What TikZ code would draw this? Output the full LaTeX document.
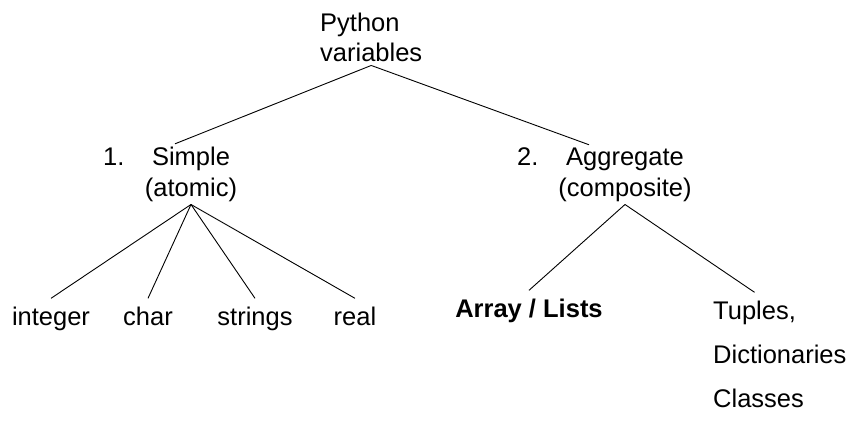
\documentclass[tikz,border=0pt]{standalone}
\usepackage{fontspec}
\setmainfont{Liberation Sans}
\usepackage{tikz}

\begin{document}
\begin{tikzpicture}[
      x=1pt, y=-1pt,
      word/.style={
        font=\fontsize{25.5}{30.5}\selectfont,
        inner xsep=0pt, inner ysep=3pt
      },
      leaf/.style={
        word, inner ysep=8pt
      },
      branch/.style={
        draw=black, line width=0.9pt
      }
    ]
      \useasboundingbox (0,0) rectangle (856,420);
      % top of the tree (base = last line)
      \node[word, align=left, anchor=base west] (root) at (320,62) {Python\\variables};
      % the two kinds
      \node[word, anchor=base west] (num1) at (103,165) {1.};
      \node[word, align=center, anchor=base] (simple) at (191,196) {Simple\\(atomic)};
      \node[word, anchor=base west] (num2) at (517,165) {2.};
      \node[word, align=center, anchor=base] (aggr) at (625,196) {Aggregate\\(composite)};
      % simple types
      \node[leaf, anchor=base] (integer) at (51,325) {integer};
      \node[leaf, anchor=base] (char) at (148,325) {char};
      \node[leaf, anchor=base] (strings) at (255,325) {strings};
      \node[leaf, anchor=base] (real) at (355,325) {real};
      % aggregate types
      \node[leaf, anchor=base] (array) at (529,317) {\bfseries Array / Lists};
      \node[leaf, anchor=base west] (tuples) at (713,319) {Tuples,};
      \node[word, anchor=base west] (dicts) at (713,363) {Dictionaries};
      \node[word, anchor=base west] (classes) at (713,407) {Classes};
      \draw[branch] (root.south) -- ([xshift=-16pt]simple.north);
      \draw[branch] (root.south) -- ([xshift=-36pt]aggr.north);
      \foreach \kid in {integer,char,strings,real}
        \draw[branch] (simple.south) -- (\kid.north);
      \draw[branch] (aggr.south) -- (array.north);
      \draw[branch] (aggr.south) -- (tuples.north);
    \end{tikzpicture}
\end{document}
